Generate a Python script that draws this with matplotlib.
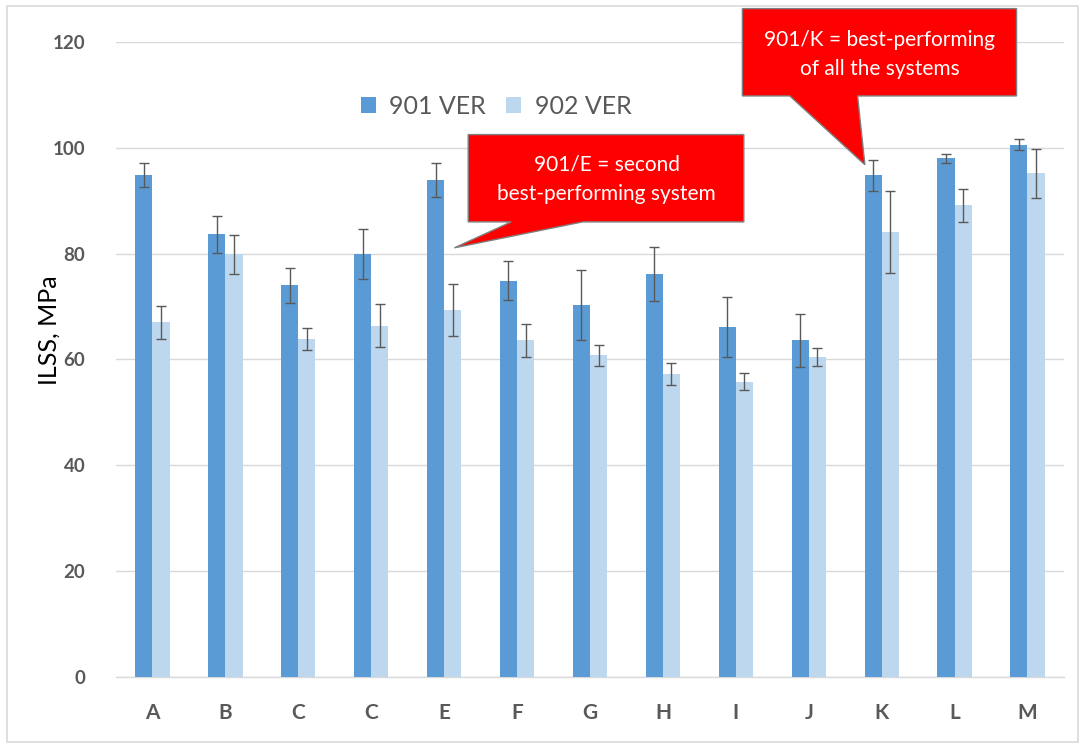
import matplotlib
matplotlib.use("Agg")
import matplotlib.pyplot as plt
import numpy as np
from matplotlib.patches import Polygon, Rectangle

plt.rcParams['font.family'] = ['Lato', 'DejaVu Sans']

categories = ["A", "B", "C", "C", "E", "F", "G", "H", "I", "J", "K", "L", "M"]
ver901 = [94.8, 83.7, 74.0, 80.0, 93.9, 74.9, 70.3, 76.2, 66.2, 63.6, 94.8, 98.0, 100.6]
err901 = [2.3, 3.5, 3.3, 4.7, 3.2, 3.7, 6.6, 5.1, 5.7, 5.0, 2.9, 0.9, 1.0]
ver902 = [67.0, 79.9, 63.8, 66.4, 69.4, 63.6, 60.8, 57.3, 55.8, 60.4, 84.1, 89.1, 95.2]
err902 = [3.2, 3.7, 2.1, 4.1, 4.9, 3.2, 2.0, 2.1, 1.6, 1.7, 7.7, 3.2, 4.6]
series_names = ["901 VER", "902 VER"]
yticks = [0, 20, 40, 60, 80, 100, 120]

c901 = "#5B9BD5"
c902 = "#BDD7EE"
grid_c = "#D9D9D9"
tick_c = "#595959"

fig = plt.figure(figsize=(10.84, 7.48), dpi=100)
ax = fig.add_axes([0.107, 0.0949, 0.8745, 0.849])

x = np.arange(len(categories))
w = 0.235
err_kw = dict(ecolor="#595959", elinewidth=1.0, capsize=3.5, capthick=1.0)
ax.bar(x - w / 2, ver901, w, color=c901, yerr=err901, error_kw=err_kw,
       label=series_names[0], zorder=3)
ax.bar(x + w / 2, ver902, w, color=c902, yerr=err902, error_kw=err_kw,
       label=series_names[1], zorder=3)

ax.set_xlim(-0.5, len(categories) - 0.5)
ax.set_ylim(0, 120)
ax.set_yticks(yticks)
ax.set_xticks(x)
ax.set_xticklabels(categories)
for lab in ax.get_yticklabels():
    lab.set_fontweight("bold")
    lab.set_color(tick_c)
    lab.set_fontsize(13.5)
for lab in ax.get_xticklabels():
    lab.set_fontweight("bold")
    lab.set_color(tick_c)
    lab.set_fontsize(15)
ax.tick_params(axis="both", length=0)
ax.tick_params(axis="y", pad=22)
ax.tick_params(axis="x", pad=19)
ax.yaxis.grid(True, color=grid_c, linewidth=1.0, zorder=0)
for s in ["top", "right", "left"]:
    ax.spines[s].set_visible(False)
ax.spines["bottom"].set_color(grid_c)
ax.spines["bottom"].set_linewidth(1.0)
ax.set_ylabel("ILSS, MPa", fontsize=18, color="black", va="center")
ax.yaxis.set_label_coords(-0.071, 0.546)

ax.legend(loc="center", bbox_to_anchor=(0.401, 0.898), ncol=2, frameon=False,
          fontsize=18, handlelength=0.6, handleheight=0.6, columnspacing=0.8,
          handletextpad=0.55, labelcolor=tick_c)


def callout(ax, box, base, tip, lines, tx, ty):
    x0, x1, y0, y1 = box
    verts = [(x0, y0), (base[0], y0), tip, (base[1], y0), (x1, y0),
             (x1, y1), (x0, y1)]
    ax.add_patch(Polygon(verts, closed=True, facecolor="#FF0000",
                         edgecolor="#7F7F7F", linewidth=1.0, clip_on=False,
                         zorder=6))
    for line, yy in zip(lines, ty):
        ax.text(tx, yy, line, ha="center", va="center", color="white",
                fontsize=15, zorder=7, clip_on=False)


callout(ax, (4.33, 8.11, 86.0, 102.5), (4.92, 5.90), (4.14, 81.1),
        ["901/E = second", "best-performing system"], 6.23, [96.8, 91.3])
callout(ax, (8.09, 11.85, 109.8, 126.3), (8.74, 9.67), (9.77, 96.8),
        ["901/K = best-performing", "of all the systems"], 9.97, [120.4, 114.9])

fig.patches.append(Rectangle((7 / 1084, 1 - 742 / 748), 1071 / 1084, 736 / 748,
                             transform=fig.transFigure, fill=False,
                             edgecolor="#D9D9D9", linewidth=1.2))

fig.savefig("out.png", dpi=100)
